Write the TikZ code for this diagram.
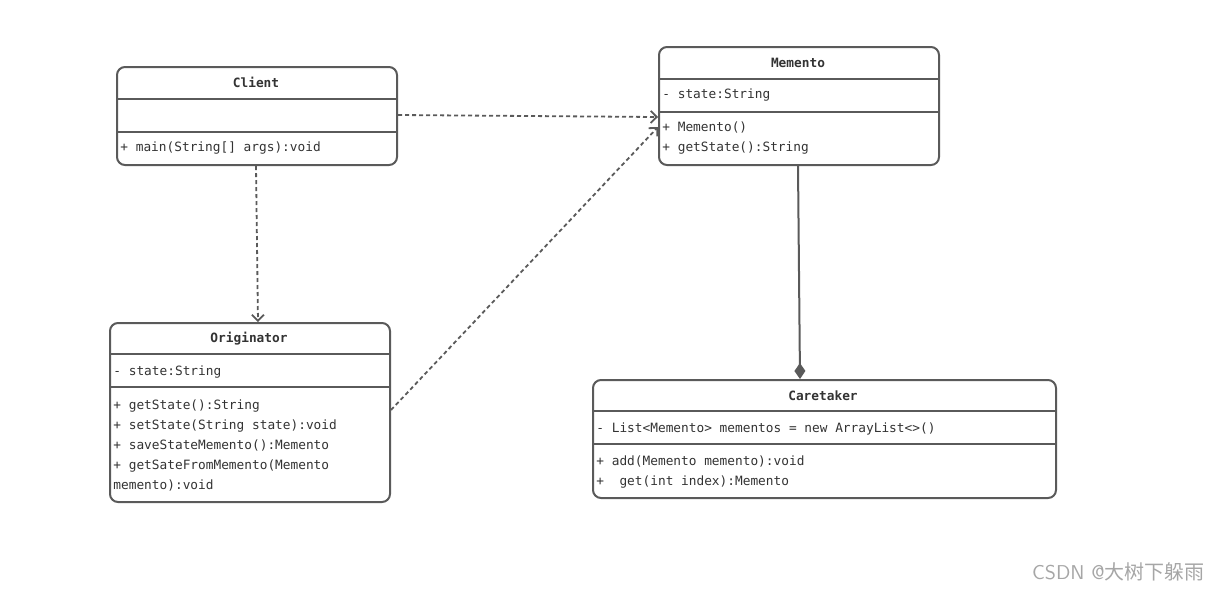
\documentclass[tikz,border=0pt]{standalone}
\usepackage{fontspec}
\setmonofont{DejaVu Sans Mono}
\newfontfamily\cjkfont{Noto Sans CJK SC}
\usetikzlibrary{arrows.meta}
\definecolor{umlline}{HTML}{5A5A5A}
\definecolor{umltext}{HTML}{333333}
\tikzset{
    cls/.style={draw=umlline, line width=1pt, rounded corners=4pt, fill=white, anchor=north west, inner sep=0pt},
    sep/.style={draw=umlline, line width=1pt},
    title/.style={font=\ttfamily\bfseries\fontsize{6.4}{10}\selectfont, text=umltext, inner sep=0pt},
    member/.style={font=\ttfamily\fontsize{6.4}{10}\selectfont, text=umltext, inner sep=0pt, anchor=west, align=left},
    dep/.style={draw=umlline, line width=0.9pt, dash pattern=on 2pt off 1.5pt, -{Straight Barb[length=3pt,width=6pt]}},
    comp/.style={draw=umlline, line width=1pt, -{Diamond[length=8pt,width=5.5pt]}}
}
\begin{document}
\begin{tikzpicture}[x=0.5pt, y=-0.5pt]
        \useasboundingbox (0,0) rectangle (1220,591);

        % classes
        \node [cls, minimum width=140pt, minimum height=49pt] (client) at (116,66) {};
        \node [cls, minimum width=140pt, minimum height=89.5pt] (orig) at (109,322) {};
        \node [cls, minimum width=140pt, minimum height=59pt] (memento) at (658,46) {};
        \node [cls, minimum width=231.5pt, minimum height=59pt] (care) at (592,379) {};

        % compartments
        \draw [sep] (116,99) -- (396,99);
        \draw [sep] (116,132) -- (396,132);
        \draw [sep] (109,354) -- (389,354);
        \draw [sep] (109,387) -- (389,387);
        \draw [sep] (658,79) -- (938,79);
        \draw [sep] (658,112) -- (938,112);
        \draw [sep] (592,411) -- (1055,411);
        \draw [sep] (592,444) -- (1055,444);

        % texts
        \node [title] (clientname) at (256,82) {Client};
        \node [member] (clientops) at (120,148.5) {+ main(String[] args):void};

        \node [title] (origname) at (249,338.5) {Originator};
        \node [member] (origattr) at (113,371.5) {-\ state:String};
        \node [member] (origops) at (113,445) {+ getState():String\\+ setState(String state):void\\+ saveStateMemento():Memento\\+ getSateFromMemento(Memento\\memento):void};

        \node [title] (mementoname) at (798,62.5) {Memento};
        \node [member] (mementoattr) at (662,95.5) {-\ state:String};
        \node [member] (mementoops) at (662,138.5) {+ Memento()\\+ getState():String};

        \node [title] (carename) at (823,395.5) {Caretaker};
        \node [member] (careattr) at (596,428.5) {-\ List<Memento> mementos = new ArrayList<>()};
        \node [member] (careops) at (596,471.5) {+ add(Memento memento):void\\+\ \ get(int index):Memento};

        % relations
        \draw [dep] (client.east |- 0,115) -- (memento.west |- 0,117);
        \draw [dep] (client.south -| 256,0) -- (orig.north -| 258,0);
        \draw [dep] (orig.east |- 0,410) -- (memento.west |- 0,127);
        \draw [comp] (memento.south -| 798,0) -- (care.north -| 800,0);

        \node [text=gray!70, font=\fontsize{10}{12}\selectfont\sffamily, anchor=east, inner sep=0pt] (mark) at (1205,572) {CSDN @{\cjkfont 大树下躲雨}};
    \end{tikzpicture}
\end{document}
